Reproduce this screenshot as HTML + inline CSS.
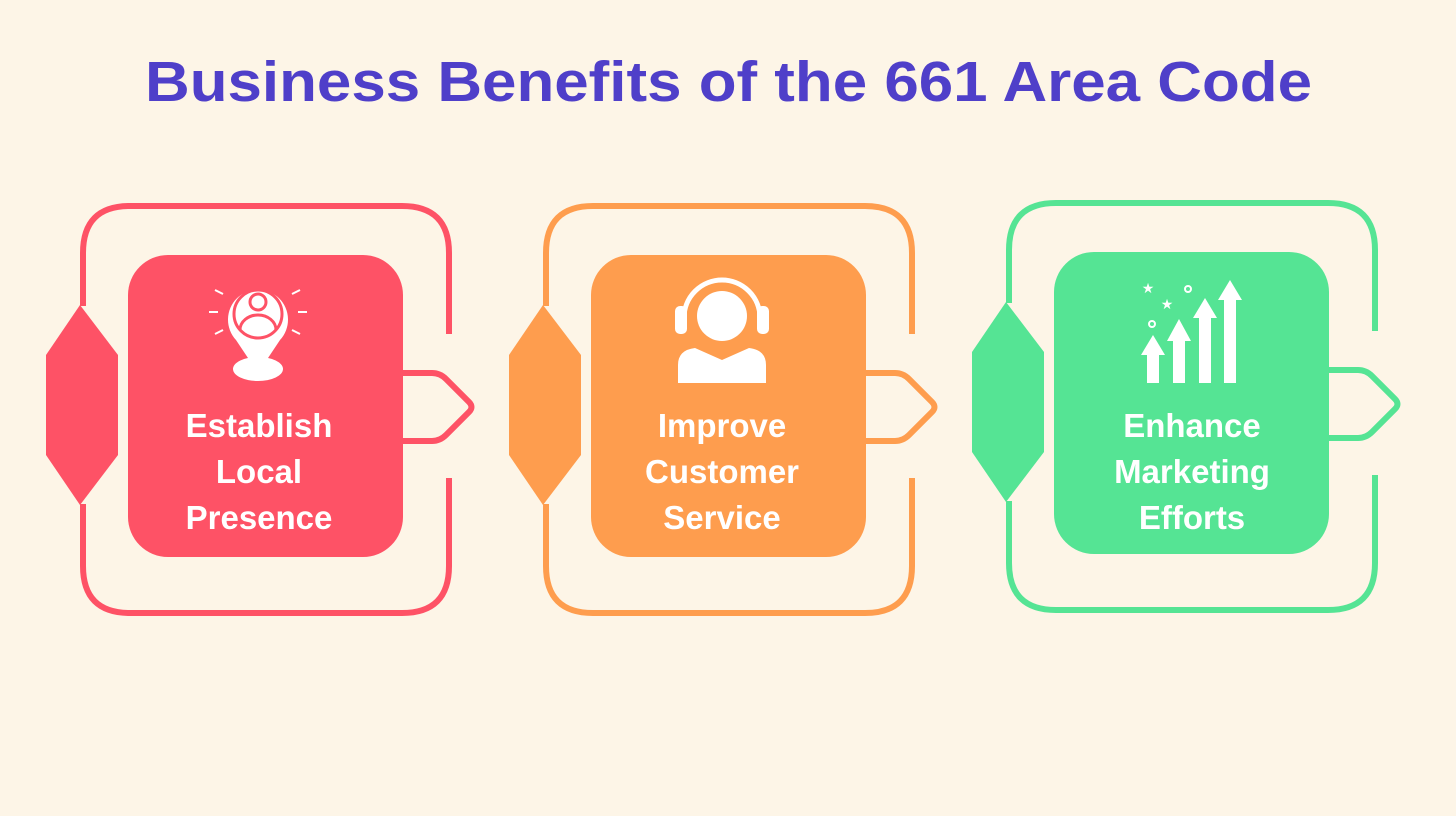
<!DOCTYPE html>
<html><head><meta charset="utf-8"><style>
html,body{margin:0;padding:0;background:#FDF5E7;}
svg{display:block}
</style></head><body>
<svg width="1456" height="816" viewBox="0 0 1456 816" xmlns="http://www.w3.org/2000/svg">
<rect width="1456" height="816" fill="#FDF5E7"/>
<text x="145" y="101" textLength="1167" lengthAdjust="spacingAndGlyphs" font-family="Liberation Sans, sans-serif" font-weight="bold" font-size="57" fill="#4F3FC9">Business Benefits of the 661 Area Code</text>

<!-- Block 1 red -->
<g id="b1" font-family="Liberation Sans, sans-serif" font-weight="bold" font-size="33" fill="#fff" text-anchor="middle">
<path d="M449 334 V253 Q449 206 402 206 H130 Q83 206 83 253 V306 M83 504 V566 Q83 613 130 613 H402 Q449 613 449 566 V478" fill="none" stroke="#FE5266" stroke-width="6"/>
<polygon points="80,305 118,355 118,455 80,505 46,455 46,355" fill="#FE5266"/>
<rect x="128" y="255" width="275" height="302" rx="40" fill="#FE5266"/>
<path d="M403 373 H432 Q440 373 446 379 L469 402 Q474 407 469 412 L446 435 Q440 441 432 441 H403" fill="none" stroke="#FE5266" stroke-width="6"/>
<text x="259" y="437">Establish</text>
<text x="259" y="483">Local</text>
<text x="259" y="529">Presence</text>
</g>
<!-- icon 1 -->
<g fill="none" stroke="#fff" stroke-width="3">
<ellipse cx="258" cy="369" rx="25" ry="12" fill="#fff" stroke="none"/>
<path d="M258 373 L236 340 A30 30 0 1 1 280 340 Z" fill="#fff" stroke="none"/>
<circle cx="258" cy="314" r="24" stroke="#FE5266" stroke-width="3"/>
<circle cx="258" cy="302" r="8" stroke="#FE5266"/>
<path d="M240 330 A18 15 0 0 1 276 330" stroke="#FE5266"/>
<path d="M215 290 l8 4 M292 294 l8 -4 M209 312 h9 M298 312 h9 M215 334 l8 -4 M292 330 l8 4" stroke="#fff" stroke-width="2"/>
</g>

<!-- Block 2 orange -->
<g transform="translate(463,0)" font-family="Liberation Sans, sans-serif" font-weight="bold" font-size="33" fill="#fff" text-anchor="middle">
<path d="M449 334 V253 Q449 206 402 206 H130 Q83 206 83 253 V306 M83 504 V566 Q83 613 130 613 H402 Q449 613 449 566 V478" fill="none" stroke="#FE9D4E" stroke-width="6"/>
<polygon points="80,305 118,355 118,455 80,505 46,455 46,355" fill="#FE9D4E"/>
<rect x="128" y="255" width="275" height="302" rx="40" fill="#FE9D4E"/>
<path d="M403 373 H432 Q440 373 446 379 L469 402 Q474 407 469 412 L446 435 Q440 441 432 441 H403" fill="none" stroke="#FE9D4E" stroke-width="6"/>
<text x="259" y="437">Improve</text>
<text x="259" y="483">Customer</text>
<text x="259" y="529">Service</text>
</g>
<!-- icon 2 -->
<g fill="#fff">
<circle cx="722" cy="316" r="25"/>
<path d="M678 383 V365 Q678 350 695 348 L722 360 L749 348 Q766 350 766 365 V383 Z"/>
<path d="M684 318 A38 38 0 0 1 760 318" fill="none" stroke="#fff" stroke-width="5"/>
<rect x="675" y="306" width="12" height="28" rx="5"/>
<rect x="757" y="306" width="12" height="28" rx="5"/>
</g>

<!-- Block 3 green -->
<g transform="translate(926,-3)" font-family="Liberation Sans, sans-serif" font-weight="bold" font-size="33" fill="#fff" text-anchor="middle">
<path d="M449 334 V253 Q449 206 402 206 H130 Q83 206 83 253 V306 M83 504 V566 Q83 613 130 613 H402 Q449 613 449 566 V478" fill="none" stroke="#55E494" stroke-width="6"/>
<polygon points="80,305 118,355 118,455 80,505 46,455 46,355" fill="#55E494"/>
<rect x="128" y="255" width="275" height="302" rx="40" fill="#55E494"/>
<path d="M403 373 H432 Q440 373 446 379 L469 402 Q474 407 469 412 L446 435 Q440 441 432 441 H403" fill="none" stroke="#55E494" stroke-width="6"/>
<text x="266" y="440">Enhance</text>
<text x="266" y="486">Marketing</text>
<text x="266" y="532">Efforts</text>
</g>
<!-- icon 3 -->
<g fill="#fff">
<polygon points="1153,335 1141,355 1147,355 1147,383 1159,383 1159,355 1165,355"/>
<polygon points="1179,319 1167,341 1173,341 1173,383 1185,383 1185,341 1191,341"/>
<polygon points="1205,298 1193,318 1199,318 1199,383 1211,383 1211,318 1217,318"/>
<polygon points="1230,280 1218,300 1224,300 1224,383 1236,383 1236,300 1242,300"/>
<circle cx="1152" cy="324" r="3" fill="none" stroke="#fff" stroke-width="2"/>
<circle cx="1188" cy="289" r="3" fill="none" stroke="#fff" stroke-width="2"/>
<text x="1148" y="293" font-size="14" font-family="DejaVu Sans, sans-serif" text-anchor="middle">★</text>
<text x="1167" y="309" font-size="14" font-family="DejaVu Sans, sans-serif" text-anchor="middle">★</text>
</g>
</svg>
</body></html>
